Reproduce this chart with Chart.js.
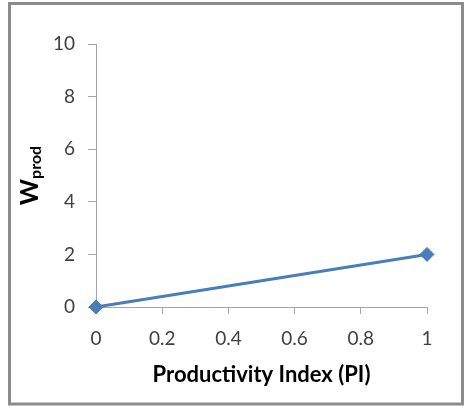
<!DOCTYPE html>
<html>
<head>
<meta charset="utf-8">
<script src="https://cdn.jsdelivr.net/npm/chart.js@4"></script>
<style>
  html, body { margin: 0; padding: 0; background: #fff; }
  #wrap { width: 465px; height: 406px; }
</style>
</head>
<body>
<div id="wrap"><canvas id="chart" width="465" height="406"></canvas></div>
<script>
// Data
const piValues = [0, 1];
const wprodValues = [0, 2];
const xTicks = [0, 0.2, 0.4, 0.6, 0.8, 1];
const yTicks = [0, 2, 4, 6, 8, 10];

const lineColor = '#4A7EBB';
const axisColor = '#A6A6A6';
const textColor = '#404040';
const fontFamily = 'Lato, "Open Sans", sans-serif';

// Outer frame + rotated Y title with subscript
const decorations = {
    id: 'decorations',
    beforeDraw(chart) {
        const ctx = chart.ctx;
        ctx.save();
        ctx.strokeStyle = '#8C8C8C';
        ctx.lineWidth = 3;
        ctx.strokeRect(9.5, 3.5, 453, 400.5);
        ctx.restore();
    },
    afterDraw(chart) {
        const ctx = chart.ctx;
        const area = chart.chartArea;
        ctx.save();
        ctx.fillStyle = '#000';
        ctx.textBaseline = 'alphabetic';
        ctx.font = 'bold 25px ' + fontFamily;
        const wWidth = ctx.measureText('W').width;
        ctx.font = 'bold 16px ' + fontFamily;
        const subWidth = ctx.measureText('prod').width;
        const total = wWidth + subWidth;
        const cy = (area.top + area.bottom) / 2;
        ctx.translate(38, cy + total / 2);
        ctx.rotate(-Math.PI / 2);
        ctx.font = 'bold 25px ' + fontFamily;
        ctx.fillText('W', 0, 0);
        ctx.font = 'bold 16px ' + fontFamily;
        ctx.fillText('prod', wWidth, 3);
        ctx.restore();
    }
};

new Chart(document.getElementById('chart'), {
    type: 'scatter',
    data: {
        datasets: [{
            data: piValues.map((x, i) => ({ x: x, y: wprodValues[i] })),
            showLine: true,
            borderColor: lineColor,
            backgroundColor: lineColor,
            borderWidth: 3,
            pointStyle: 'rectRot',
            pointRadius: 7,
            pointBorderWidth: 1,
            pointBackgroundColor: lineColor,
            pointBorderColor: lineColor,
            clip: false
        }]
    },
    options: {
        responsive: false,
        animation: false,
        layout: { padding: { left: 0, right: 38, top: 44, bottom: 0 } },
        plugins: {
            legend: { display: false },
            tooltip: { enabled: false }
        },
        scales: {
            x: {
                type: 'linear',
                min: 0,
                max: 1,
                afterFit(scale) { scale.height = 99; },
                afterBuildTicks(scale) { scale.ticks = xTicks.map(v => ({ value: v })); },
                border: { display: true, color: axisColor, width: 1 },
                grid: { drawOnChartArea: false, drawTicks: true, tickLength: 7, color: axisColor },
                ticks: {
                    color: textColor,
                    padding: 13,
                    maxRotation: 0,
                    font: { family: fontFamily, size: 19 },
                    callback: v => String(v)
                },
                title: {
                    display: true,
                    text: 'Productivity Index (PI)',
                    color: '#000',
                    font: { family: fontFamily, size: 22, weight: 'bold' },
                    padding: { top: 0, bottom: 18 }
                }
            },
            y: {
                type: 'linear',
                min: 0,
                max: 10,
                afterFit(scale) { scale.width = 96; },
                afterBuildTicks(scale) { scale.ticks = yTicks.map(v => ({ value: v })); },
                border: { display: true, color: axisColor, width: 1 },
                grid: { drawOnChartArea: false, drawTicks: true, tickLength: 8, color: axisColor },
                ticks: {
                    color: textColor,
                    padding: 13,
                    font: { family: fontFamily, size: 19 },
                    callback: v => String(v)
                }
            }
        }
    },
    plugins: [decorations]
});
</script>
</body>
</html>
